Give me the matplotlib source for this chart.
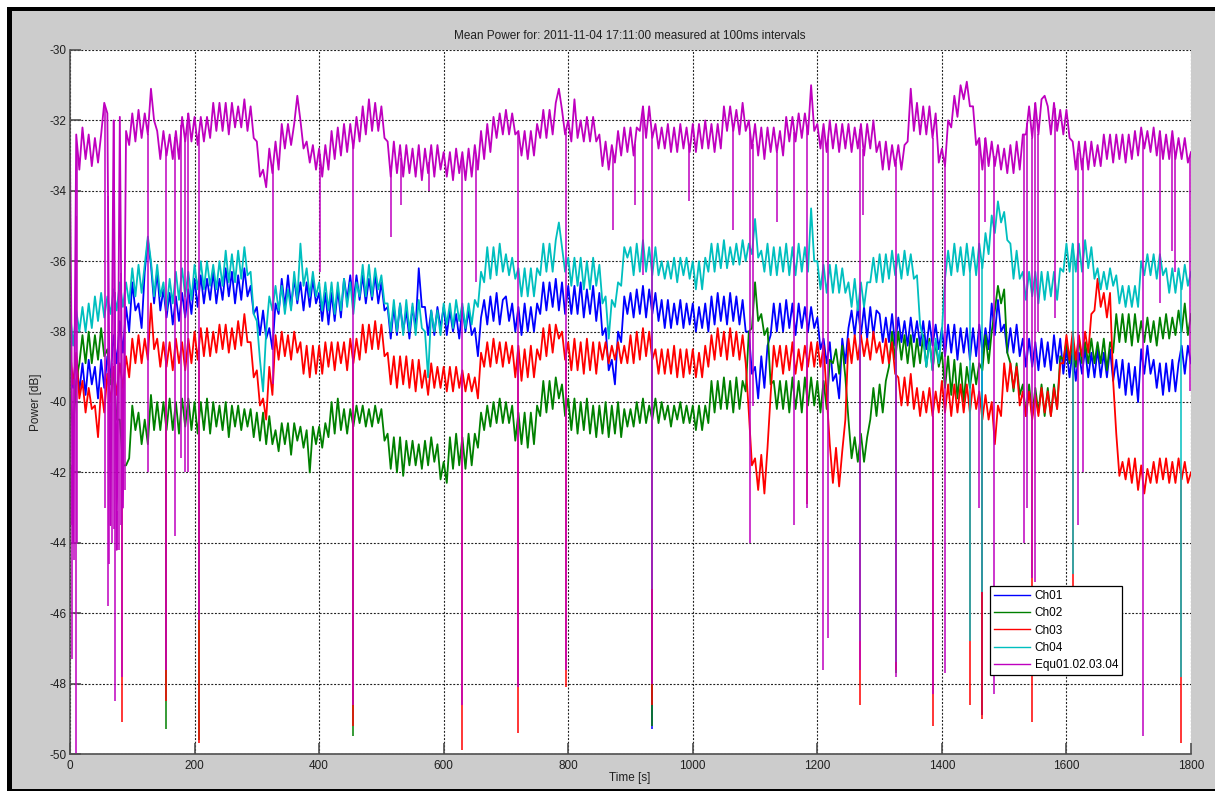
import numpy as np
import matplotlib.pyplot as plt
from matplotlib.patches import Rectangle
from matplotlib.lines import Line2D

plt.rcParams['font.family'] = ['Liberation Sans', 'DejaVu Sans']
plt.rcParams['lines.scale_dashes'] = False
plt.rcParams['axes.unicode_minus'] = False

# sample grid: one value every 5 s over the 30 minute run
t = np.arange(0, 1801, 5)

ch01 = (
    [-38.8, -39.6, -38.7, -39.7, -38.9, -39.8, -38.8, -39.5, -39.0, -39.9, -38.8, -39.6, -38.7, -39.3, -38.1, -38.9, -37.7, -38.6, -37.3, -38.0] +
    [-36.6, -37.4, -37.2, -37.9, -36.3, -35.4, -36.1, -37.2, -36.3, -37.4, -36.8, -37.6, -36.9, -37.8, -37.0, -37.7, -36.9, -37.6, -36.8, -37.5] +
    [-36.5, -37.3, -36.4, -37.2, -36.5, -37.1, -36.3, -37.2, -36.5, -37.1, -36.2, -37.0, -36.3, -37.2, -36.4, -37.1, -36.2, -37.0, -36.7, -37.5] +
    [-37.3, -38.1, -37.4, -38.2, -37.9, -38.5, -37.2, -37.5, -36.5, -37.3, -36.4, -37.3, -36.5, -37.2, -36.6, -37.4, -36.6, -37.3, -36.5, -37.2] +
    [-36.9, -37.7, -36.9, -37.8, -36.9, -37.7, -36.8, -37.6, -36.5, -37.1, -36.4, -37.2, -36.4, -37.1, -36.4, -37.2, -36.5, -37.1, -36.4, -37.2] +
    [-36.6, -37.4, -37.3, -38.2, -37.3, -38.1, -37.2, -38.0, -37.4, -38.2, -37.3, -37.9, -36.2, -37.3, -37.3, -38.1, -37.4, -38.1, -37.3, -37.9] +
    [-37.3, -38.1, -37.4, -38.0, -37.5, -38.2, -37.3, -38.0, -37.4, -38.1, -37.9, -38.7, -37.6, -37.1, -37.8, -37.0, -37.7, -36.9, -37.8, -37.1] +
    [-37.0, -37.7, -37.2, -38.0, -37.3, -38.1, -37.2, -38.0, -37.3, -38.0, -37.2, -37.5, -36.6, -37.4, -36.6, -37.3, -36.5, -37.4, -36.6, -37.5] +
    [-36.7, -37.5, -36.7, -37.5, -36.6, -37.6, -36.8, -37.5, -36.7, -37.7, -36.9, -38.1, -37.9, -39.1, -38.8, -39.5, -38.0, -38.3, -37.0, -37.5] +
    [-36.9, -37.6, -36.8, -37.5, -36.7, -37.6, -36.8, -37.5, -36.9, -37.7, -37.1, -37.9, -37.1, -37.9, -37.2, -37.8, -37.1, -37.9, -37.2, -37.8] +
    [-37.2, -38.0, -37.3, -37.9, -37.2, -38.0, -37.0, -37.8, -36.9, -37.7, -37.0, -37.8, -36.9, -37.7, -37.0, -37.8, -37.1, -38.0, -38.0, -39.2] +
    [-39.0, -39.9, -38.7, -39.6, -38.4, -38.1, -37.2, -38.0, -37.2, -38.0, -37.1, -37.9, -37.2, -38.1, -37.2, -37.9, -37.3, -38.0, -37.3, -37.9] +
    [-37.6, -38.5, -38.2, -38.9, -38.3, -39.4, -39.2, -39.9, -38.2, -38.9, -37.9, -37.4, -38.1, -37.3, -38.1, -37.3, -38.2, -37.3, -38.1, -37.4] +
    [-37.5, -38.3, -37.6, -38.3, -37.5, -38.4, -37.6, -38.3, -37.7, -38.4, -37.6, -38.3, -37.7, -38.4, -37.7, -38.5, -37.7, -38.4, -37.8, -38.5] +
    [-37.9, -38.7, -37.8, -38.6, -37.8, -38.8, -37.9, -38.6, -37.9, -38.8, -37.9, -38.7, -37.8, -38.6, -37.9, -38.5, -37.2, -38.1, -37.1, -38.0] +
    [-37.8, -38.6, -37.9, -38.6, -37.8, -38.7, -38.2, -39.0, -38.2, -39.0, -38.3, -39.1, -38.2, -39.0, -38.3, -39.1, -38.1, -38.9, -38.2, -39.2] +
    [-38.5, -39.3, -38.5, -39.4, -38.6, -39.2, -38.5, -39.3, -38.6, -39.3, -38.5, -39.3, -38.6, -39.3, -38.5, -39.4, -38.8, -39.6, -38.8, -39.8] +
    [-38.9, -39.8, -39.0, -40.0, -38.5, -39.2, -38.4, -39.2, -38.8, -39.6, -38.9, -39.8, -38.9, -39.7, -38.8, -39.7, -38.9, -38.4, -39.2, -38.4] +
    [-38.9]
)

ch02 = (
    [-39.8, -40.8, -39.4, -38.9, -38.1, -38.9, -38.0, -38.9, -38.1, -38.8, -37.9, -38.7, -38.5, -39.5, -39.2, -40.5, -40.5, -41.8, -41.8, -41.6] +
    [-40.1, -40.8, -40.3, -41.2, -40.5, -41.2, -39.8, -40.8, -40.0, -40.8, -40.0, -40.8, -39.9, -40.8, -40.0, -40.9, -39.9, -40.7, -39.9, -40.8] +
    [-40.0, -40.9, -40.0, -40.8, -39.9, -40.9, -40.0, -40.7, -40.1, -40.8, -40.0, -41.0, -40.1, -40.7, -40.1, -40.8, -40.2, -40.7, -40.2, -41.0] +
    [-40.3, -41.1, -40.3, -41.2, -40.4, -41.2, -40.8, -41.4, -40.6, -41.2, -40.6, -41.5, -40.6, -41.1, -40.7, -41.3, -40.8, -42.0, -40.7, -41.2] +
    [-40.7, -41.3, -40.6, -41.0, -40.0, -40.9, -39.9, -40.8, -40.2, -40.9, -40.2, -40.7, -40.1, -40.6, -40.1, -40.7, -40.2, -40.7, -40.1, -40.6] +
    [-40.2, -41.1, -40.9, -41.9, -41.0, -42.0, -41.0, -42.1, -41.1, -41.8, -41.1, -41.8, -41.2, -41.9, -41.1, -41.8, -41.0, -41.7, -41.2, -42.2] +
    [-41.7, -42.3, -41.0, -41.9, -40.9, -41.8, -41.0, -41.9, -40.9, -41.8, -40.9, -41.3, -40.3, -40.8, -40.1, -40.7, -40.0, -40.6, -39.9, -40.6] +
    [-40.0, -40.6, -40.1, -41.1, -40.3, -41.2, -40.3, -41.3, -40.3, -41.2, -40.1, -40.4, -39.4, -40.3, -39.4, -40.2, -39.3, -39.9, -39.5, -40.4] +
    [-39.9, -40.8, -39.9, -40.9, -40.0, -40.8, -39.9, -40.9, -40.1, -41.0, -40.1, -40.9, -40.0, -41.0, -40.1, -40.9, -40.0, -41.0, -40.2, -40.7] +
    [-40.2, -40.7, -40.0, -40.6, -39.9, -40.6, -40.1, -40.5, -39.9, -40.6, -40.0, -40.5, -40.1, -40.7, -40.1, -40.5, -40.0, -40.6, -40.1, -40.6] +
    [-40.1, -40.8, -40.1, -40.8, -40.1, -40.6, -39.4, -40.3, -39.4, -40.2, -39.3, -40.2, -39.4, -40.3, -39.3, -40.2, -39.4, -39.7, -38.0, -37.9] +
    [-36.6, -37.7, -37.5, -38.1, -37.9, -39.5, -39.4, -40.2, -39.4, -40.2, -39.4, -40.3, -39.3, -40.2, -39.4, -40.3, -39.3, -40.1, -39.3, -40.1] +
    [-39.4, -40.3, -39.4, -40.2, -38.8, -38.9, -38.5, -39.2, -38.4, -39.3, -40.5, -41.6, -41.0, -41.7, -40.9, -41.7, -41.0, -40.5, -39.6, -40.4] +
    [-39.5, -40.3, -39.4, -39.0, -38.0, -38.8, -38.0, -38.8, -38.1, -38.9, -38.1, -39.0, -38.2, -38.9, -38.1, -39.0, -38.2, -39.1, -38.3, -39.0] +
    [-38.6, -39.6, -38.7, -39.8, -38.8, -39.9, -38.9, -40.0, -39.0, -39.6, -38.9, -39.5, -38.9, -39.1, -38.1, -38.9, -38.0, -37.4, -36.7, -37.2] +
    [-36.8, -38.6, -38.9, -39.7, -38.9, -39.8, -39.5, -40.4, -39.5, -40.4, -39.6, -40.3, -39.5, -40.4, -39.6, -40.4, -39.5, -40.2, -38.7, -38.8] +
    [-38.3, -38.9, -38.2, -39.0, -38.2, -38.9, -38.3, -38.9, -38.2, -38.9, -38.3, -38.9, -38.2, -39.1, -38.3, -38.6, -37.5, -38.3, -37.5, -38.3] +
    [-37.5, -38.4, -37.5, -38.3, -37.7, -38.3, -37.6, -38.3, -37.7, -38.4, -37.6, -38.2, -37.5, -38.2, -37.6, -38.1, -37.4, -38.0, -37.2, -38.1] +
    [-37.5]
)

ch03 = (
    [-38.5, -39.5, -38.6, -39.9, -39.4, -40.3, -39.6, -40.2, -40.1, -41.0, -39.6, -40.3, -39.2, -40.0, -39.0, -39.8, -38.9, -39.6, -38.7, -39.3] +
    [-38.2, -38.9, -38.1, -38.9, -38.2, -38.8, -37.2, -38.5, -38.2, -39.0, -38.3, -39.0, -38.3, -39.1, -38.2, -38.9, -38.3, -39.1, -38.2, -38.9] +
    [-38.0, -38.8, -37.9, -38.7, -37.9, -38.7, -38.0, -38.6, -37.8, -38.5, -37.8, -38.6, -37.9, -38.5, -37.7, -38.4, -37.5, -38.3, -38.3, -39.3] +
    [-39.1, -40.1, -39.9, -40.5, -39.0, -39.8, -38.1, -38.8, -38.0, -38.7, -38.1, -38.8, -38.0, -38.6, -38.3, -39.2, -38.4, -39.3, -38.4, -39.2] +
    [-38.4, -39.2, -38.3, -39.0, -38.3, -39.1, -38.3, -38.9, -38.3, -39.1, -38.2, -38.9, -38.2, -38.8, -37.8, -38.6, -37.8, -38.5, -37.7, -38.5] +
    [-37.8, -38.7, -38.6, -39.5, -38.7, -39.6, -38.7, -39.5, -38.7, -39.6, -38.8, -39.7, -38.8, -39.6, -39.1, -39.8, -38.9, -39.6, -39.0, -39.6] +
    [-39.0, -39.7, -39.0, -39.7, -39.0, -39.6, -39.1, -39.7, -39.2, -39.7, -39.3, -39.9, -38.6, -39.0, -38.3, -39.0, -38.2, -38.9, -38.3, -39.0] +
    [-38.3, -38.9, -38.4, -39.3, -38.4, -39.4, -38.5, -39.3, -38.4, -39.3, -38.5, -38.8, -37.9, -38.7, -37.8, -38.6, -37.8, -38.2, -38.0, -38.8] +
    [-38.3, -39.1, -38.2, -39.1, -38.3, -39.2, -38.2, -39.1, -38.3, -39.2, -38.3, -38.8, -38.3, -38.9, -38.4, -38.8, -38.3, -38.9, -38.4, -38.9] +
    [-38.1, -38.9, -38.0, -38.8, -37.9, -38.7, -38.0, -38.8, -38.5, -39.2, -38.5, -39.2, -38.5, -39.2, -38.4, -39.3, -38.5, -39.3, -38.5, -39.2] +
    [-38.5, -39.3, -38.6, -39.3, -38.4, -39.0, -38.1, -38.8, -37.9, -38.7, -38.0, -38.8, -37.9, -38.7, -38.0, -38.8, -38.1, -38.9, -40.3, -41.8] +
    [-41.6, -42.5, -41.5, -42.6, -41.3, -39.8, -38.4, -39.0, -38.4, -39.2, -38.4, -39.1, -38.3, -39.2, -38.5, -39.1, -38.4, -39.0, -38.3, -39.0] +
    [-38.3, -39.0, -38.4, -39.8, -41.2, -42.3, -41.3, -42.4, -41.4, -40.5, -38.2, -38.9, -38.1, -38.8, -38.1, -38.7, -38.2, -38.8, -38.0, -38.6] +
    [-38.3, -38.9, -38.2, -38.9, -38.3, -39.2, -39.3, -40.1, -39.3, -40.1, -39.2, -40.2, -39.6, -40.4, -39.7, -40.3, -39.6, -40.4, -39.7, -40.3] +
    [-39.4, -40.3, -39.5, -40.4, -39.5, -40.3, -39.5, -40.3, -39.5, -40.3, -39.5, -40.2, -39.7, -40.5, -39.8, -40.5, -40.0, -41.2, -40.1, -40.4] +
    [-38.9, -39.7, -38.9, -39.6, -39.0, -40.1, -39.7, -40.4, -39.7, -40.5, -39.8, -40.4, -39.6, -40.3, -39.7, -40.4, -39.6, -40.2, -38.9, -38.9] +
    [-38.1, -38.8, -38.0, -38.8, -38.1, -38.7, -38.0, -38.6, -37.5, -37.4, -36.5, -37.3, -36.9, -37.6, -36.9, -39.4, -40.9, -42.1, -41.7, -42.2] +
    [-41.6, -42.3, -41.6, -42.5, -41.8, -42.6, -41.9, -42.3, -41.7, -42.3, -41.6, -42.2, -41.6, -42.3, -41.7, -42.3, -41.6, -42.2, -41.7, -42.3] +
    [-42.0]
)

ch04 = (
    [-37.4, -38.4, -37.4, -38.0, -37.3, -38.0, -37.2, -37.9, -37.0, -37.7, -36.9, -37.6, -37.0, -37.5, -36.8, -37.4, -36.6, -37.3, -36.6, -37.2] +
    [-36.2, -37.0, -36.1, -36.9, -36.1, -35.3, -36.0, -37.0, -36.1, -37.0, -36.6, -37.4, -36.5, -37.2, -36.3, -37.1, -36.2, -37.0, -36.3, -37.1] +
    [-36.1, -36.8, -36.0, -36.8, -36.0, -36.7, -36.1, -36.8, -36.0, -36.7, -35.7, -36.6, -35.8, -36.6, -35.7, -36.5, -35.6, -36.4, -36.3, -37.5] +
    [-37.7, -38.8, -39.7, -38.0, -37.0, -37.4, -36.7, -37.4, -36.7, -37.5, -36.8, -37.4, -36.3, -37.1, -35.5, -36.7, -36.2, -37.0, -36.3, -37.0] +
    [-36.6, -37.4, -36.6, -37.4, -36.6, -37.5, -36.6, -37.4, -36.5, -37.3, -36.6, -37.5, -36.6, -37.0, -36.1, -37.0, -36.1, -37.0, -36.2, -36.8] +
    [-36.4, -37.2, -37.2, -38.0, -37.1, -38.0, -37.2, -38.1, -37.1, -38.0, -37.2, -38.1, -37.1, -37.9, -38.0, -39.3, -37.4, -38.0, -37.4, -38.1] +
    [-37.2, -37.8, -37.2, -37.9, -37.1, -37.7, -37.2, -37.9, -37.2, -37.8, -37.1, -37.3, -36.3, -36.6, -35.6, -36.5, -35.6, -36.4, -35.5, -36.3] +
    [-35.8, -36.4, -35.9, -36.5, -36.2, -37.0, -36.2, -37.0, -36.2, -37.0, -36.2, -36.4, -35.5, -36.3, -35.5, -36.3, -35.4, -34.9, -35.6, -36.3] +
    [-35.9, -36.7, -35.9, -36.7, -35.9, -36.8, -36.0, -36.8, -35.9, -36.7, -36.1, -37.2, -37.0, -38.2, -37.1, -37.3, -36.6, -36.7, -35.6, -35.9] +
    [-35.6, -36.4, -35.5, -36.3, -35.4, -36.3, -35.6, -36.4, -35.6, -36.4, -36.0, -36.5, -36.0, -36.5, -35.9, -36.6, -35.9, -36.4, -35.9, -36.5] +
    [-36.0, -36.8, -36.0, -36.8, -35.9, -36.3, -35.5, -36.3, -35.5, -36.2, -35.4, -36.2, -35.6, -36.1, -35.5, -36.1, -35.4, -36.0, -35.5, -35.8] +
    [-34.8, -35.9, -35.7, -36.3, -35.5, -36.4, -35.6, -36.4, -35.6, -36.3, -35.5, -36.4, -35.6, -36.4, -35.5, -36.3, -35.6, -36.3, -34.5, -36.0] +
    [-36.0, -36.8, -36.1, -36.9, -36.1, -36.9, -36.1, -36.9, -36.2, -36.9, -36.6, -37.3, -36.5, -37.4, -36.6, -37.3, -36.6, -36.6, -35.9, -36.6] +
    [-35.8, -36.6, -35.8, -36.5, -35.7, -36.4, -35.8, -36.5, -35.7, -36.4, -35.8, -36.5, -36.4, -37.8, -38.2, -39.0, -38.3, -39.1, -38.2, -38.9] +
    [-38.0, -36.5, -35.7, -36.4, -35.5, -36.3, -35.6, -36.4, -35.5, -36.3, -35.6, -36.4, -35.5, -36.2, -35.2, -35.8, -34.7, -35.2, -34.3, -34.9] +
    [-34.6, -35.4, -35.5, -36.5, -35.7, -36.5, -36.3, -37.1, -36.3, -37.0, -36.3, -37.2, -36.3, -37.1, -36.3, -37.0, -36.3, -37.1, -36.2, -36.3] +
    [-35.5, -36.3, -35.5, -36.3, -35.5, -36.3, -35.4, -36.2, -35.6, -36.5, -36.2, -36.8, -36.3, -36.8, -36.2, -36.7, -36.4, -37.2, -36.7, -37.3] +
    [-36.7, -37.3, -36.7, -37.3, -36.0, -36.4, -35.8, -36.4, -35.8, -36.5, -35.8, -36.4, -36.2, -36.9, -36.2, -36.9, -36.2, -36.8, -36.1, -36.7] +
    [-36.3]
)

equ = (
    [-33.0, -44.0, -32.4, -33.4, -32.2, -33.1, -32.4, -33.3, -32.5, -33.2, -32.4, -31.5, -31.8, -43.5, -32.0, -44.2, -31.9, -43.0, -32.3, -32.7] +
    [-31.8, -32.6, -31.7, -32.5, -31.8, -32.4, -31.1, -32.0, -32.3, -33.1, -32.3, -33.0, -32.4, -33.1, -32.3, -33.1, -31.9, -32.6, -31.8, -32.6] +
    [-31.9, -32.7, -31.9, -32.6, -31.9, -32.5, -31.5, -32.3, -31.5, -32.3, -31.5, -32.4, -31.5, -32.2, -31.6, -32.2, -31.4, -32.3, -31.6, -32.5] +
    [-32.6, -33.6, -33.4, -33.9, -32.8, -33.5, -32.6, -33.4, -32.1, -32.8, -32.1, -32.7, -32.1, -31.3, -32.0, -32.8, -32.6, -33.2, -32.7, -33.4] +
    [-32.8, -33.6, -32.7, -33.4, -32.3, -33.1, -32.2, -33.0, -32.1, -32.9, -32.1, -32.8, -31.9, -32.6, -31.6, -32.4, -31.4, -32.3, -31.5, -32.3] +
    [-31.6, -32.5, -32.6, -33.6, -32.6, -33.5, -32.7, -33.6, -32.7, -33.5, -32.8, -33.6, -32.7, -33.7, -32.8, -33.5, -32.7, -33.6, -32.7, -33.4] +
    [-32.9, -33.6, -32.9, -33.7, -32.8, -33.5, -32.9, -33.7, -32.8, -33.6, -32.7, -33.4, -32.3, -33.1, -32.1, -32.9, -31.9, -32.5, -31.8, -32.4] +
    [-31.7, -32.4, -31.8, -32.4, -32.3, -33.0, -32.3, -33.1, -32.3, -33.0, -32.1, -32.5, -31.7, -32.5, -31.7, -32.4, -31.5, -31.1, -31.7, -32.4] +
    [-32.0, -32.6, -31.4, -32.5, -32.0, -32.6, -31.9, -32.6, -31.9, -32.6, -32.4, -33.3, -32.6, -33.4, -32.7, -33.2, -32.3, -33.0, -32.2, -32.9] +
    [-32.2, -33.0, -32.2, -32.3, -31.6, -32.5, -31.6, -32.5, -32.1, -32.8, -32.2, -32.8, -32.1, -32.9, -32.2, -32.9, -32.1, -32.8, -32.2, -32.9] +
    [-32.1, -32.9, -32.1, -32.8, -32.0, -32.8, -32.1, -32.9, -32.1, -32.8, -31.6, -32.3, -31.6, -32.3, -31.7, -32.4, -31.5, -32.3, -32.0, -32.8] +
    [-32.1, -33.0, -32.2, -33.1, -32.2, -32.9, -32.2, -32.9, -32.3, -33.0, -31.9, -32.6, -31.9, -32.6, -31.8, -32.5, -31.8, -32.4, -31.0, -32.3] +
    [-32.1, -32.8, -32.1, -32.9, -32.0, -32.8, -32.1, -32.9, -32.1, -32.8, -32.1, -32.9, -32.2, -32.8, -32.1, -33.0, -32.1, -32.8, -32.0, -32.9] +
    [-32.6, -33.4, -32.6, -33.4, -32.7, -33.3, -32.7, -33.4, -32.7, -32.6, -31.1, -32.3, -31.5, -32.4, -31.6, -32.4, -31.6, -32.5, -31.8, -33.2] +
    [-32.8, -33.3, -32.0, -32.2, -31.3, -31.9, -31.0, -31.4, -30.9, -31.6, -31.6, -32.7, -32.5, -33.4, -32.5, -33.3, -32.6, -33.3, -32.7, -33.4] +
    [-32.8, -33.5, -32.7, -33.5, -32.6, -33.4, -32.4, -32.4, -31.6, -32.5, -31.5, -32.4, -31.4, -31.3, -31.6, -32.4, -31.5, -32.3, -31.7, -32.4] +
    [-31.7, -32.5, -32.6, -33.4, -32.6, -33.4, -32.6, -33.4, -32.6, -33.3, -32.7, -33.3, -32.4, -33.1, -32.4, -33.2, -32.4, -33.1, -32.4, -33.2] +
    [-32.4, -33.1, -32.3, -33.0, -32.2, -32.8, -32.3, -32.9, -32.2, -33.0, -32.3, -33.1, -32.4, -33.1, -32.3, -33.1, -32.5, -33.1, -32.5, -33.2] +
    [-32.9]
)

# dropouts: (time [s], power [dB]) of the single-sample dips
drops_ch01 = [(934, -49.3), (1464, -48.9)]
drops_ch02 = [(154, -49.3), (207, -49.6), (454, -49.5), (934, -49.2), (1326, -47.7)]
drops_ch03 = [(84, -49.1), (154, -48.5), (207, -49.7), (454, -49.2), (629, -49.9), (719, -49.4),
              (796, -48.1), (934, -48.6), (1183, -42.9), (1269, -48.6), (1326, -47.6), (1385, -49.2),
              (1445, -48.6), (1464, -49.0), (1545, -49.1), (1610, -45.3), (1784, -49.7)]
drops_ch04 = [(934, -45.3), (1269, -46.8), (1326, -47.4), (1445, -46.8), (1464, -45.4),
              (1610, -44.9), (1784, -47.8)]
drops_equ = [(2, -43.5), (4, -47.3), (7, -44.5), (9, -50.0), (12, -44.0), (57, -43.0), (61, -45.8),
             (63, -44.6), (67, -44.0), (70, -43.6), (72, -48.5), (75, -43.1), (78, -44.2), (82, -43.5),
             (84, -47.8), (88, -42.5), (125, -42.0), (154, -47.6), (169, -43.8), (179, -41.6),
             (184, -42.0), (190, -42.0), (207, -46.2), (326, -39.5), (401, -36.3), (454, -48.6),
             (516, -35.3), (532, -34.4), (577, -34.0), (629, -48.6), (652, -36.6), (719, -48.1),
             (796, -47.6), (872, -35.1), (907, -34.4), (920, -36.4), (934, -48.0), (994, -34.3),
             (1064, -35.1), (1092, -44.0), (1096, -40.1), (1135, -34.9), (1163, -43.5), (1183, -43.0),
             (1209, -47.6), (1217, -46.7), (1269, -47.6), (1274, -34.7), (1326, -47.8), (1385, -48.3),
             (1405, -47.7), (1460, -43.0), (1470, -34.9), (1483, -48.3), (1532, -44.0), (1537, -43.0),
             (1545, -45.0), (1550, -45.1), (1555, -38.0), (1581, -37.6), (1618, -43.5), (1627, -42.0),
             (1723, -49.5), (1750, -37.2), (1769, -35.7), (1774, -36.3), (1798, -39.7)]

names = ['Ch01', 'Ch02', 'Ch03', 'Ch04', 'Equ01.02.03.04']
colors = [(0, 0, 1), (0, 0.5, 0), (1, 0, 0), (0, 0.75, 0.75), (0.75, 0, 0.75)]

W, H = 1215, 792
fig = plt.figure(figsize=(W / 100, H / 100), dpi=100, facecolor='white')

# window frame
fig.patches.append(Rectangle((7 / W, 1 / H), 1 - 7 / W, (785 - 1) / H, transform=fig.transFigure,
                             facecolor='black', edgecolor='none', zorder=-2))
fig.patches.append(Rectangle((12 / W, 3 / H), 1 - 12 / W, (781 - 3) / H, transform=fig.transFigure,
                             facecolor='#cccccc', edgecolor='none', zorder=-1))

ax = fig.add_axes([70 / W, (H - 754) / H, 1121 / W, 704 / H])
ax.set_facecolor('white')

series = [ch01, ch02, ch03, ch04, equ]
drops = [drops_ch01, drops_ch02, drops_ch03, drops_ch04, drops_equ]
for i, (vals, dr, c, name) in enumerate(zip(series, drops, colors, names)):
    vals = np.array(vals)
    ax.plot(t, vals, color=c, lw=1.3, label=name, zorder=3 + i * 0.1)
    # each dropout is a thin vertical stroke from the running level down to its depth
    dt = np.array([d[0] for d in dr])
    dv = np.array([d[1] for d in dr])
    ax.vlines(dt, dv, np.interp(dt, t, vals), color=c, lw=1.1, zorder=3 + i * 0.1)

ax.set_xlim(0, 1800)
ax.set_ylim(-50, -30)
ax.set_xticks(range(0, 1801, 200))
ax.set_yticks(range(-50, -29, 2))
ax.grid(True, color='#202020', linestyle=(0, (1.4, 1.2)), lw=0.8, zorder=1)
ax.set_axisbelow(True)

for s in ['top', 'right']:
    ax.spines[s].set_visible(False)
for s in ['left', 'bottom']:
    ax.spines[s].set_color('#505050')
    ax.spines[s].set_linewidth(1.2)
    ax.spines[s].set_zorder(4)

ax.tick_params(direction='in', length=8, width=1.2, color='#505050', labelsize=8.5,
               labelcolor='#202020')
ax.tick_params(axis='x', pad=4)
ax.tick_params(axis='y', pad=2.5)

fig.text(630 / W, 1 - 36 / H, 'Mean Power for: 2011-11-04 17:11:00 measured at 100ms intervals',
         ha='center', va='center', fontsize=8.5, color='#202020')
fig.text(630 / W, 1 - 778 / H, 'Time [s]', ha='center', va='center', fontsize=8.5, color='#202020')
fig.text(36 / W, 1 - 402 / H, 'Power [dB]', ha='center', va='center', rotation=90,
         fontsize=8.5, color='#202020')

handles = [Line2D([], [], color=c, lw=1.0) for c in colors]
leg = ax.legend(handles, names, loc='upper left', bbox_to_anchor=(0.8207, 0.2386), borderaxespad=0,
                fontsize=8.5, handlelength=3.0, handletextpad=0.45, labelspacing=0.44, borderpad=0.35,
                fancybox=False, framealpha=1, edgecolor='black')
leg.get_frame().set_linewidth(0.9)
leg.set_zorder(10)

fig.savefig('out.png', dpi=100, facecolor=fig.get_facecolor())
